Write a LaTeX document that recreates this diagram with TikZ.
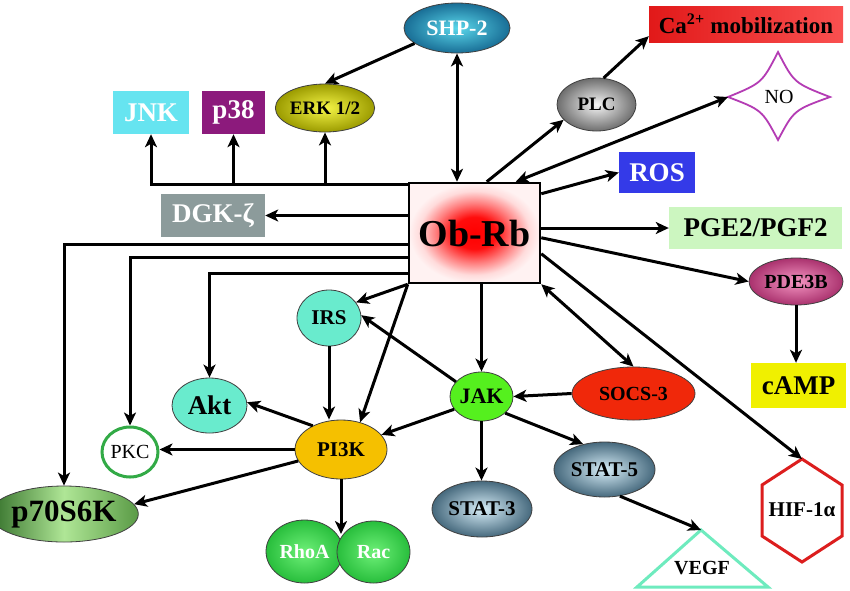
\documentclass[tikz,border=0pt]{standalone}
\usepackage{fontspec}
\setmainfont{Liberation Serif}
\usetikzlibrary{arrows.meta,shapes.geometric}
\newcommand\fsz[1]{\fontsize{#1}{#1}\selectfont}
\definecolor{jnkc}{RGB}{102,228,240}
\definecolor{p38c}{RGB}{140,26,124}
\definecolor{dgkc}{RGB}{140,155,155}
\definecolor{rosc}{RGB}{52,58,232}
\definecolor{pgec}{RGB}{204,246,192}
\definecolor{campc}{RGB}{240,240,0}
\definecolor{caL}{RGB}{225,25,25}
\definecolor{caR}{RGB}{250,80,80}
\definecolor{shpin}{RGB}{90,215,235}
\definecolor{shpout}{RGB}{25,110,150}
\definecolor{erkin}{RGB}{245,245,70}
\definecolor{erkout}{RGB}{155,155,0}
\definecolor{plcin}{RGB}{245,245,245}
\definecolor{plcout}{RGB}{110,110,110}
\definecolor{pdein}{RGB}{245,150,195}
\definecolor{pdeout}{RGB}{170,50,110}
\definecolor{socsc}{RGB}{240,40,10}
\definecolor{jakc}{RGB}{85,240,30}
\definecolor{aqua}{RGB}{105,235,205}
\definecolor{pikc}{RGB}{245,192,0}
\definecolor{pkcc}{RGB}{50,170,70}
\definecolor{p70L}{RGB}{50,110,40}
\definecolor{p70M}{RGB}{175,230,150}
\definecolor{p70R}{RGB}{90,155,70}
\definecolor{rhoin}{RGB}{110,240,120}
\definecolor{rhoout}{RGB}{40,190,60}
\definecolor{statin}{RGB}{215,238,248}
\definecolor{statout}{RGB}{70,105,125}
\definecolor{vegfc}{RGB}{110,235,190}
\definecolor{hifc}{RGB}{220,30,30}
\definecolor{noc}{RGB}{180,60,180}
\pgfdeclareradialshading{obrbshade}{\pgfpoint{0bp}{0bp}}{color(0bp)=(red); color(8bp)=(red!95!white); color(15bp)=(red!50!white); color(21bp)=(red!14!white); color(25bp)=(red!5!white); color(50bp)=(red!5!white)}
\tikzset{
  tip/.tip={Stealth[length=13pt,width=12pt,inset=3.5pt]},
  arr/.style={line width=3pt, -tip},
  dbl/.style={line width=3pt, tip-tip},
  box/.style={rectangle, inner sep=0pt, font=\bfseries\fsz{27}},
  oval/.style={ellipse, draw=black!75, line width=0.8pt, inner sep=0pt, font=\bfseries\fsz{20}},
  rad/.style 2 args={shading=radial, inner color=#1, outer color=#2},
}
\begin{document}
\begin{tikzpicture}[x=1pt,y=-1pt]
\fill[white] (0,0) rectangle (850,590);
\useasboundingbox (0,0) rectangle (850,590);

% drawn shapes
\draw[noc, line width=1.8pt, fill=white] (728,97) .. controls (762,83) .. (778,52) .. controls (794,83) .. (830,97) .. controls (794,110) .. (778,140) .. controls (762,110) .. (728,97) -- cycle;
\coordinate (nol) at (728,97);
\draw[hifc, line width=3pt, fill=white] (802,459) -- (842,485) -- (842,536) -- (802,562) -- (762,536) -- (762,485) -- cycle;
\coordinate (hiftop) at (802,459);
\draw[vegfc, line width=3pt, fill=white] (701,530) -- (768,587) -- (637,587) -- cycle;
\coordinate (vegftop) at (701,530);

% nodes
\node[box, fill=jnkc, text=white, minimum width=76, minimum height=43] (jnk) at (151,112.5) {JNK};
\node[box, fill=p38c, text=white, minimum width=63, minimum height=43] (p38) at (233.5,112.5) {p38};
\node[oval, rad={erkin}{erkout}, minimum width=92, minimum height=48, font=\bfseries\fsz{19}] (erk) at (325,108) {ERK 1/2};
\node[oval, rad={shpin}{shpout}, text=white, minimum width=106, minimum height=50, font=\bfseries\fsz{22}] (shp) at (457,28) {SHP-2};
\node[box, left color=caL, right color=caR, minimum width=194, minimum height=36, font=\bfseries\fsz{23}] (ca) at (746,24) {Ca\textsuperscript{2+} mobilization};
\node[oval, rad={plcin}{plcout}, minimum width=79, minimum height=53, font=\bfseries\fsz{19}] (plc) at (596.5,104.5) {PLC};
\node[font=\fsz{20}] (no) at (779,97) {NO};
\node[box, fill=rosc, text=white, minimum width=76, minimum height=41] (ros) at (657,172.5) {ROS};
\node[box, fill=dgkc, text=white, minimum width=104, minimum height=43] (dgk) at (213,215.5) {DGK-ζ};
\node[rectangle, draw=black, line width=2.5pt, shading=obrbshade, minimum width=131, minimum height=100, inner sep=0pt, font=\bfseries\fsz{38}] (obrb) at (474.5,233) {Ob-Rb};
\node[box, fill=pgec, minimum width=173, minimum height=42] (pge) at (755.5,228) {PGE2/PGF2};
\node[oval, rad={pdein}{pdeout}, minimum width=94, minimum height=47] (pde) at (796,281.5) {PDE3B};
\node[box, fill=campc, minimum width=95, minimum height=45] (camp) at (798.5,385.5) {cAMP};
\node[oval, fill=aqua, minimum width=64, minimum height=56, font=\bfseries\fsz{21}] (irs) at (329,318) {IRS};
\node[oval, fill=jakc, minimum width=63, minimum height=49, font=\bfseries\fsz{22}] (jak) at (481.5,396.5) {JAK};
\node[oval, fill=socsc, minimum width=123, minimum height=53] (socs) at (633.5,393.5) {SOCS-3};
\node[oval, fill=aqua, minimum width=75, minimum height=55, font=\bfseries\fsz{27}] (akt) at (209.5,405.5) {Akt};
\node[oval, fill=pikc, minimum width=92, minimum height=59, font=\bfseries\fsz{21}] (pi3k) at (341,449.5) {PI3K};
\node[ellipse, draw=pkcc, line width=3pt, fill=white, minimum width=56, minimum height=50, inner sep=0pt, font=\fsz{20}] (pkc) at (130,452) {PKC};
\node[oval, left color=p70L, right color=p70R, middle color=p70M, minimum width=124, minimum height=56, font=\bfseries\fsz{31}] (p70) at (64,514) {p70S6K};
\node[oval, rad={rhoin}{rhoout}, text=white, minimum width=77, minimum height=63] (rhoa) at (304.5,551.5) {RhoA};
\node[oval, rad={rhoin}{rhoout}, text=white, minimum width=73, minimum height=62] (rac) at (373.5,552) {Rac};
\node[oval, rad={statin}{statout}, minimum width=100, minimum height=56, font=\bfseries\fsz{21}] (stat3) at (482,509) {STAT-3};
\node[oval, rad={statin}{statout}, minimum width=101, minimum height=55, font=\bfseries\fsz{21}] (stat5) at (604.5,469.5) {STAT-5};
\node[font=\bfseries\fsz{20}] (vegf) at (702,568) {VEGF};
\node[font=\bfseries\fsz{21}] (hif) at (802,510) {HIF-1α};
\coordinate (rr) at (341,534);

% connectors
\coordinate (bus) at ([yshift=-3pt]obrb.north west);
\draw[arr] (bus) -| (jnk.south);
\draw[arr] (bus -| p38.south) -- (p38.south);
\draw[arr] (bus -| erk.south) -- (erk.south);
\draw[arr] (obrb.west |- dgk.east) -- (dgk.east);
\draw[arr] ([yshift=-63pt]obrb.north west) -| (p70.north);
\draw[arr] ([yshift=-76pt]obrb.north west) -| (pkc.north);
\draw[arr] ([yshift=-92pt]obrb.north west) -| (akt.north);
\draw[dbl] (shp.south) -- (shp.south |- obrb.north);
\draw[arr] (shp.200) -- (erk.north);
\draw[arr] ([xshift=79pt]obrb.north west) -- (plc.205);
\draw[arr] (plc.75) -- ([yshift=6pt]ca.south west);
\draw[dbl] ([xshift=108pt]obrb.north west) -- (nol);
\draw[arr] ([yshift=-12pt]obrb.north east) -- (ros.west);
\draw[arr] (obrb.east |- pge.west) -- (pge.west);
\draw[arr] ([yshift=-56pt]obrb.north east) -- (pde.west);
\draw[arr] (pde.south) -- (pde.south |- camp.north);
\draw[arr] ([yshift=-72pt]obrb.north east) -- (hiftop);
\draw[dbl] (obrb.south east) -- (socs.north);
\draw[arr] (socs.west) -- (jak.east);
\draw[arr] (obrb.south -| jak.north) -- (jak.north);
\draw[arr] (jak.150) -- (irs.5);
\draw[arr] (obrb.south west) -- (irs.30);
\draw[arr] (irs.south) -- (irs.south |- pi3k.north);
\draw[arr] (obrb.south west) -- (pi3k.55);
\draw[arr] (jak.205) -- (pi3k.20);
\draw[arr] (pi3k.140) -- (akt.5);
\draw[arr] (pi3k.west) -- (pi3k.west -| pkc.east);
\draw[arr] (pi3k.195) -- (p70.8);
\draw[arr] (pi3k.south) -- (rr);
\draw[arr] (jak.south) -- (jak.south |- stat3.north);
\draw[arr] (jak.-35) -- (stat5.130);
\draw[arr] (stat5.-60) -- (vegftop);
\end{tikzpicture}
\end{document}
